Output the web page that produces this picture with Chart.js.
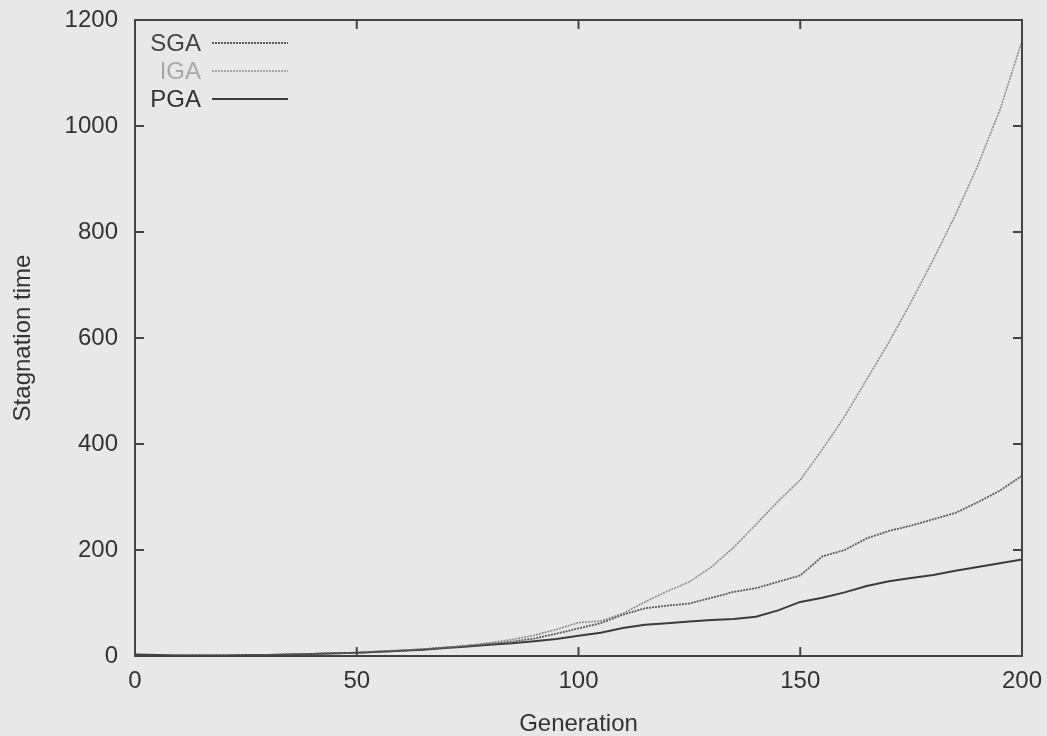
<!DOCTYPE html>
<html>
<head>
<meta charset="utf-8">
<script src="https://cdn.jsdelivr.net/npm/chart.js@4.4.1/dist/chart.umd.min.js"></script>
<style>
  html, body { margin: 0; padding: 0; background: #e8e8e8; }
  canvas { display: block; }
</style>
</head>
<body>
<canvas id="stagnation" width="1047" height="736"></canvas>
<script>
// generation numbers (x axis)
const generations = [0, 5, 10, 15, 20, 25, 30, 35, 40, 45, 50, 55, 60, 65, 70, 75, 80, 85, 90, 95,
  100, 105, 110, 115, 120, 125, 130, 135, 140, 145, 150, 155, 160, 165, 170, 175, 180, 185, 190, 195, 200];

// stagnation time per algorithm
const sga = [0, 0, 1, 1, 1, 2, 2, 3, 4, 5, 6, 8, 10, 13, 16, 19, 23, 27, 33, 42,
  52, 62, 78, 90, 95, 99, 110, 121, 128, 140, 152, 188, 200, 222, 236, 246, 258, 270, 290, 312, 340];
const iga = [0, 0, 1, 1, 1, 2, 2, 3, 4, 5, 7, 9, 11, 13, 16, 20, 25, 31, 39, 50,
  63, 66, 80, 102, 122, 140, 168, 205, 248, 292, 332, 390, 452, 522, 592, 668, 748, 832, 925, 1030, 1160];
const pga = [3, 2, 1, 1, 1, 2, 2, 3, 4, 5, 6, 8, 10, 12, 15, 18, 21, 24, 28, 32,
  38, 44, 53, 59, 62, 65, 68, 70, 74, 86, 102, 110, 120, 132, 141, 147, 153, 161, 168, 175, 182];

const xTicks = [0, 50, 100, 150, 200];
const yTicks = [0, 200, 400, 600, 800, 1000, 1200];

const FONT = "'Liberation Sans', Arial, Helvetica, sans-serif";
Chart.defaults.font.family = FONT;

const toPoints = (ys) => ys.map((y, i) => ({ x: generations[i], y: y }));

// gnuplot style frame with inward ticks
const framePlugin = {
  id: 'frame',
  afterDatasetsDraw(chart) {
    const { ctx, chartArea: a, scales } = chart;
    const len = 9;
    ctx.save();
    ctx.strokeStyle = '#444';
    ctx.lineWidth = 2;
    ctx.strokeRect(a.left, a.top, a.right - a.left, a.bottom - a.top);
    ctx.beginPath();
    xTicks.forEach(v => {
      const px = scales.x.getPixelForValue(v);
      ctx.moveTo(px, a.bottom); ctx.lineTo(px, a.bottom - len);
      ctx.moveTo(px, a.top); ctx.lineTo(px, a.top + len);
    });
    yTicks.forEach(v => {
      const py = scales.y.getPixelForValue(v);
      ctx.moveTo(a.left, py); ctx.lineTo(a.left + len, py);
      ctx.moveTo(a.right, py); ctx.lineTo(a.right - len, py);
    });
    ctx.stroke();
    ctx.restore();
  }
};

// key in the top left corner: label first, sample line after it
const keyPlugin = {
  id: 'key',
  afterDraw(chart) {
    const { ctx, chartArea: a } = chart;
    ctx.save();
    ctx.font = '24px ' + FONT;
    ctx.textAlign = 'right';
    ctx.textBaseline = 'middle';
    chart.data.datasets.forEach((ds, i) => {
      const y = a.top + 23 + i * 28;
      ctx.fillStyle = ds.keyColor;
      ctx.fillText(ds.label, a.left + 66, y + 1);
      ctx.strokeStyle = ds.borderColor;
      ctx.lineWidth = ds.borderWidth;
      ctx.setLineDash(ds.borderDash || []);
      ctx.beginPath();
      ctx.moveTo(a.left + 77, y);
      ctx.lineTo(a.left + 153, y);
      ctx.stroke();
    });
    ctx.restore();
  }
};

new Chart('stagnation', {
  type: 'line',
  data: {
    datasets: [{
      label: 'SGA',
      data: toPoints(sga),
      borderColor: '#5a5a5a',
      keyColor: '#444',
      borderWidth: 1.8,
      borderDash: [2, 1],
    }, {
      label: 'IGA',
      data: toPoints(iga),
      borderColor: '#8c8c8c',
      keyColor: '#a8a8a8',
      borderWidth: 1.6,
      borderDash: [2, 1],
    }, {
      label: 'PGA',
      data: toPoints(pga),
      borderColor: '#3c3c3c',
      keyColor: '#333',
      borderWidth: 2,
    }]
  },
  options: {
    responsive: false,
    animation: false,
    devicePixelRatio: 1,
    elements: {
      point: { radius: 0 },
      line: { tension: 0 }
    },
    layout: {
      padding: { top: 20, right: 25, left: 0, bottom: 0 }
    },
    plugins: {
      legend: { display: false },
      tooltip: { enabled: false }
    },
    scales: {
      x: {
        type: 'linear',
        min: 0,
        max: 200,
        afterFit: (scale) => {
          scale.height = 80;
          scale.paddingLeft = 0;
          scale.paddingRight = 0;
        },
        afterBuildTicks: (scale) => { scale.ticks = xTicks.map(v => ({ value: v })); },
        grid: { display: false, drawTicks: false },
        border: { display: false },
        ticks: {
          color: '#333',
          padding: 11,
          maxRotation: 0,
          font: { size: 24 },
          callback: (v) => String(v)
        },
        title: {
          display: true,
          text: 'Generation',
          color: '#333',
          font: { size: 24, lineHeight: 1 },
          padding: { top: 0, bottom: 0 }
        }
      },
      y: {
        min: 0,
        max: 1200,
        afterFit: (scale) => {
          scale.width = 135;
          scale.paddingTop = 0;
          scale.paddingBottom = 0;
        },
        afterBuildTicks: (scale) => { scale.ticks = yTicks.map(v => ({ value: v })); },
        grid: { display: false, drawTicks: false },
        border: { display: false },
        ticks: {
          color: '#333',
          padding: 17,
          font: { size: 24 },
          callback: (v) => String(v)
        },
        title: {
          display: true,
          text: 'Stagnation time',
          color: '#333',
          font: { size: 24, lineHeight: 1 },
          padding: { top: 11, bottom: 0 }
        }
      }
    }
  },
  plugins: [framePlugin, keyPlugin]
});
</script>
</body>
</html>
